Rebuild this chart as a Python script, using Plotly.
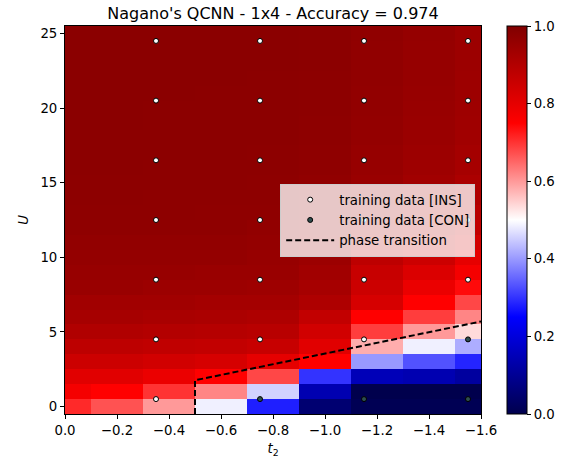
import plotly.graph_objects as go

# Grid of the hopping parameter t2 (columns) and interaction U (rows)
t2_values = [0.0, -0.2, -0.4, -0.6, -0.8, -1.0, -1.2, -1.4, -1.6]
U_values = list(range(26))

# QCNN output probability on the grid, one list per U row (U = 0 .. 25)
p_U00 = [0.71, 0.67, 0.60, 0.485, 0.28, 0.05, 0.01, 0.01, 0.01]
p_U01 = [0.77, 0.75, 0.70, 0.62, 0.455, 0.14, 0.00, 0.00, 0.00]
p_U02 = [0.81, 0.81, 0.79, 0.75, 0.68, 0.30, 0.15, 0.14, 0.115]
p_U03 = [0.85, 0.85, 0.84, 0.83, 0.80, 0.75, 0.40, 0.33, 0.285]
p_U04 = [0.88, 0.88, 0.875, 0.87, 0.86, 0.81, 0.58, 0.485, 0.42]
p_U05 = [0.905, 0.905, 0.90, 0.895, 0.89, 0.84, 0.69, 0.60, 0.535]
p_U06 = [0.925, 0.925, 0.92, 0.915, 0.91, 0.87, 0.75, 0.69, 0.62]
p_U07 = [0.935, 0.935, 0.935, 0.93, 0.93, 0.91, 0.83, 0.75, 0.68]
p_U08 = [0.95, 0.95, 0.945, 0.945, 0.94, 0.925, 0.85, 0.79, 0.74]
p_U09 = [0.955, 0.955, 0.955, 0.95, 0.95, 0.935, 0.86, 0.82, 0.77]
p_U10 = [0.96, 0.96, 0.96, 0.96, 0.955, 0.945, 0.88, 0.85, 0.80]
p_U11 = [0.965, 0.965, 0.965, 0.965, 0.96, 0.95, 0.90, 0.88, 0.84]
p_U12 = [0.97, 0.97, 0.97, 0.97, 0.965, 0.955, 0.92, 0.90, 0.87]
p_U13 = [0.972, 0.972, 0.972, 0.97, 0.97, 0.96, 0.935, 0.915, 0.89]
p_U14 = [0.974, 0.974, 0.973, 0.972, 0.972, 0.965, 0.945, 0.925, 0.905]
p_U15 = [0.975, 0.975, 0.974, 0.974, 0.973, 0.967, 0.95, 0.935, 0.915]
p_U16 = [0.976, 0.976, 0.975, 0.975, 0.974, 0.97, 0.955, 0.94, 0.925]
p_U17 = [0.977, 0.977, 0.976, 0.976, 0.975, 0.97, 0.957, 0.945, 0.93]
p_U18 = [0.977, 0.977, 0.977, 0.976, 0.976, 0.972, 0.96, 0.948, 0.935]
p_U19 = [0.978, 0.978, 0.977, 0.977, 0.976, 0.973, 0.962, 0.95, 0.938]
p_U20 = [0.978, 0.978, 0.977, 0.977, 0.977, 0.974, 0.964, 0.952, 0.94]
p_U21 = [0.978, 0.978, 0.978, 0.977, 0.977, 0.975, 0.965, 0.955, 0.942]
p_U22 = [0.978, 0.978, 0.978, 0.978, 0.977, 0.975, 0.966, 0.956, 0.943]
p_U23 = [0.979, 0.979, 0.978, 0.978, 0.978, 0.976, 0.967, 0.957, 0.944]
p_U24 = [0.979, 0.979, 0.978, 0.978, 0.978, 0.976, 0.967, 0.957, 0.945]
p_U25 = [0.979, 0.979, 0.979, 0.978, 0.978, 0.976, 0.968, 0.958, 0.945]

prob_grid = [p_U00, p_U01, p_U02, p_U03, p_U04, p_U05, p_U06, p_U07, p_U08,
             p_U09, p_U10, p_U11, p_U12, p_U13, p_U14, p_U15, p_U16, p_U17,
             p_U18, p_U19, p_U20, p_U21, p_U22, p_U23, p_U24, p_U25]

# Training points: insulating and conducting labels
ins_t2 = [-0.35, -0.35, -0.75, -1.15,
          -0.35, -0.75, -1.15, -1.55,
          -0.35, -0.75, -1.15, -1.55,
          -0.35, -0.75, -1.15, -1.55,
          -0.35, -0.75, -1.15, -1.55,
          -0.35, -0.75, -1.15, -1.55]
ins_U = [0.5, 4.5, 4.5, 4.5,
         8.5, 8.5, 8.5, 8.5,
         12.5, 12.5, 12.5, 12.5,
         16.5, 16.5, 16.5, 16.5,
         20.5, 20.5, 20.5, 20.5,
         24.5, 24.5, 24.5, 24.5]
con_t2 = [-0.75, -1.15, -1.55, -1.55]
con_U = [0.5, 0.5, 0.5, 4.5]

# Phase boundary
transition_t2 = [-0.5, -0.5, -1.6]
transition_U = [-0.5, 1.76, 5.7]

# matplotlib "seismic" colormap
seismic = [
    [0.0, "rgb(0,0,77)"],
    [0.25, "rgb(0,0,255)"],
    [0.5, "rgb(255,255,255)"],
    [0.75, "rgb(255,0,0)"],
    [1.0, "rgb(128,0,0)"],
]

FONT = "DejaVu Sans"

fig = go.Figure()

fig.add_trace(go.Heatmap(
    x=t2_values, y=U_values, z=prob_grid,
    colorscale=seismic, zmin=0, zmax=1, zsmooth=False,
    showscale=True, showlegend=False, hoverinfo="skip",
    colorbar=dict(
        x=1.0625, xanchor="left", xref="paper", xpad=0,
        y=0.5, yanchor="middle", len=1.0, lenmode="fraction", ypad=0,
        thickness=20, outlinecolor="black", outlinewidth=1,
        tickmode="array", tickvals=[0, 0.2, 0.4, 0.6, 0.8, 1.0],
        ticktext=["0.0", "0.2", "0.4", "0.6", "0.8", "1.0"],
        ticks="outside", ticklen=4, tickcolor="black",
        tickfont=dict(family=FONT, size=13.3, color="black"),
    ),
))

fig.add_trace(go.Scatter(
    x=ins_t2, y=ins_U, mode="markers", name="training data [INS]",
    marker=dict(symbol="circle", size=5, color="white",
                line=dict(color="black", width=1)),
))

fig.add_trace(go.Scatter(
    x=con_t2, y=con_U, mode="markers", name="training data [CON]",
    marker=dict(symbol="circle", size=5, color="darkslategray",
                line=dict(color="black", width=1)),
))

fig.add_trace(go.Scatter(
    x=transition_t2, y=transition_U, mode="lines", name="phase transition",
    line=dict(color="black", width=2, dash="6px,3px"),
))

fig.update_layout(
    width=570, height=461,
    margin=dict(l=65, r=89, t=26, b=47, autoexpand=False),
    paper_bgcolor="white", plot_bgcolor="white",
    font=dict(family=FONT, size=13.3, color="black"),
    title=dict(
        text="Nagano's QCNN - 1x4 - Accuracy = 0.974",
        x=(65 + 208) / 570, xanchor="center",
        y=1 - 13 / 461, yanchor="middle",
        font=dict(family=FONT, size=16, color="black"),
    ),
    legend=dict(
        x=0.986, xanchor="right", y=0.5, yanchor="middle",
        bgcolor="rgba(255,255,255,0.78)", bordercolor="#cccccc", borderwidth=1,
        font=dict(family=FONT, size=13.3, color="black"),
        tracegroupgap=0, itemwidth=48,
    ),
    xaxis=dict(
        range=[0, -1.6], tickmode="array",
        tickvals=[0, -0.2, -0.4, -0.6, -0.8, -1.0, -1.2, -1.4, -1.6],
        tickformat=".1f", automargin=False,
        ticks="outside", ticklen=4, tickcolor="black",
        showline=True, linecolor="black", linewidth=1, mirror=True,
        showgrid=False, zeroline=False,
        title=dict(text="<i>t</i><sub>2</sub>", standoff=6,
                   font=dict(family=FONT, size=13.3)),
    ),
    yaxis=dict(
        range=[-0.5, 25.5], tickmode="array", tickvals=[0, 5, 10, 15, 20, 25],
        automargin=False,
        ticks="outside", ticklen=4, tickcolor="black",
        showline=True, linecolor="black", linewidth=1, mirror=True,
        showgrid=False, zeroline=False,
        title=dict(text="<i>U</i>", standoff=8,
                   font=dict(family=FONT, size=13.3)),
    ),
)

fig.write_html("out.html")
